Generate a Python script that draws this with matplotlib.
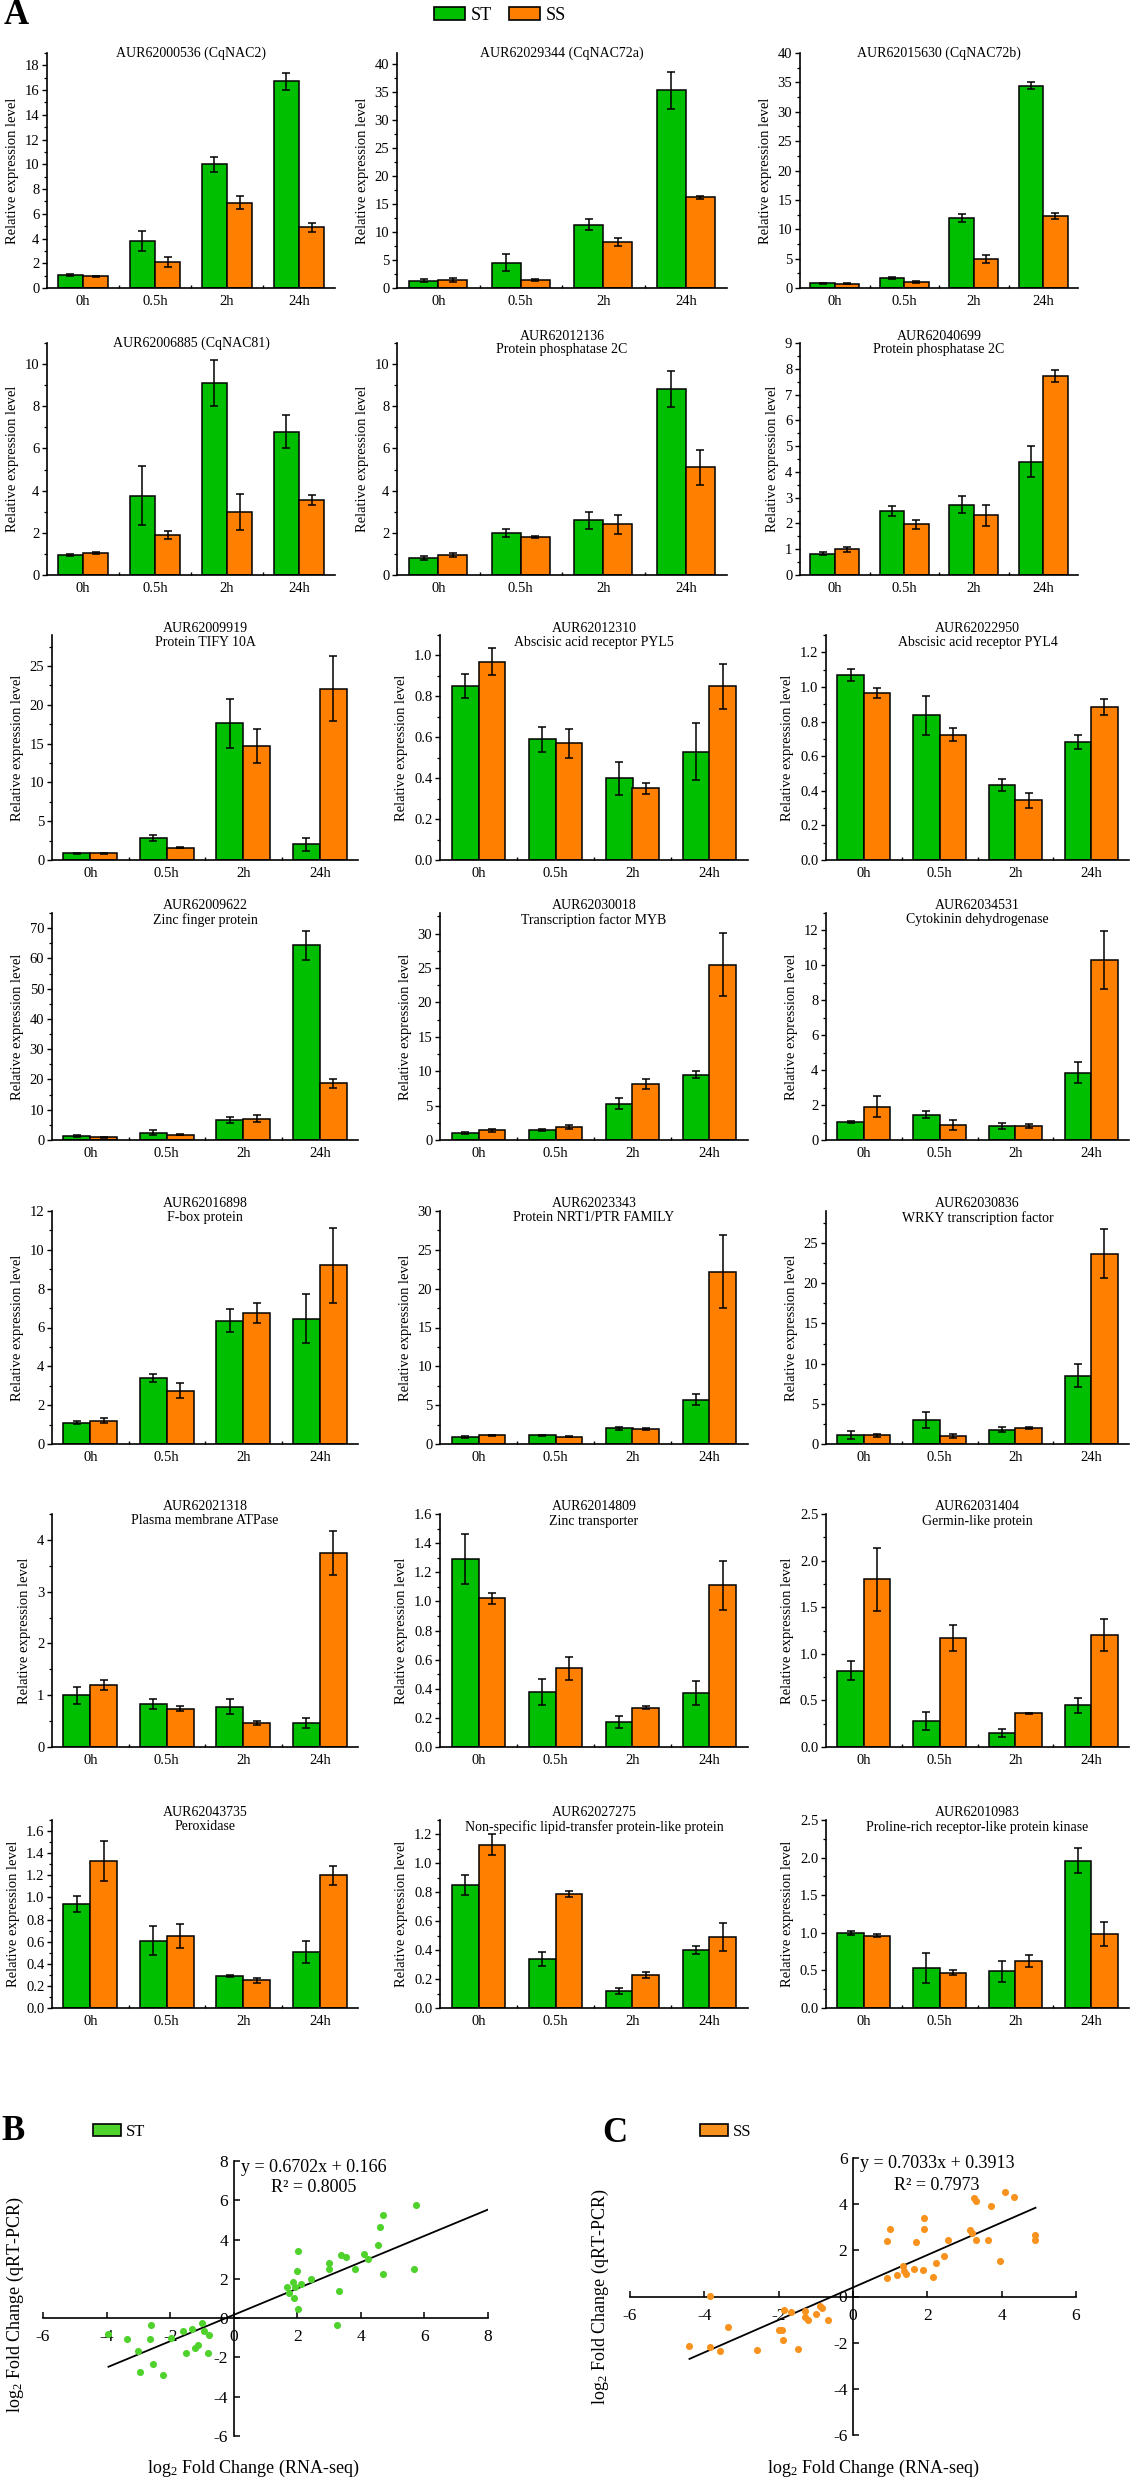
import matplotlib
matplotlib.use('Agg')
import matplotlib.pyplot as plt
from matplotlib.ticker import MultipleLocator, AutoMinorLocator, FormatStrFormatter, FixedLocator
from matplotlib.patches import Patch
import numpy as np

plt.rcParams['font.family'] = ['Liberation Serif', 'DejaVu Serif']
plt.rcParams['mathtext.fontset'] = 'custom'
plt.rcParams['mathtext.rm'] = 'Liberation Serif'
plt.rcParams['mathtext.it'] = 'Liberation Serif:italic'
plt.rcParams['axes.unicode_minus'] = False

# ---------------- data ----------------
times = ['0h', '0.5h', '2h', '24h']
series_names = ['ST', 'SS']

titles = [
    "AUR62000536 (CqNAC2)",
    "AUR62029344 (CqNAC72a)",
    "AUR62015630 (CqNAC72b)",
    "AUR62006885 (CqNAC81)",
    "AUR62012136\nProtein phosphatase 2C",
    "AUR62040699\nProtein phosphatase 2C",
    "AUR62009919\nProtein TIFY 10A",
    "AUR62012310\nAbscisic acid receptor PYL5",
    "AUR62022950\nAbscisic acid receptor PYL4",
    "AUR62009622\nZinc finger protein",
    "AUR62030018\nTranscription factor MYB",
    "AUR62034531\nCytokinin dehydrogenase",
    "AUR62016898\nF-box protein",
    "AUR62023343\nProtein NRT1/PTR FAMILY",
    "AUR62030836\nWRKY transcription factor",
    "AUR62021318\nPlasma membrane ATPase",
    "AUR62014809\nZinc transporter",
    "AUR62031404\nGermin-like protein",
    "AUR62043735\nPeroxidase",
    "AUR62027275\nNon-specific lipid-transfer protein-like protein",
    "AUR62010983\nProline-rich receptor-like protein kinase",
]

st_mean = [
    [1.05, 3.8, 10.0, 16.7],
    [1.3, 4.5, 11.3, 35.3],
    [0.8, 1.7, 11.9, 34.4],
    [0.95, 3.75, 9.1, 6.8],
    [0.8, 2.0, 2.6, 8.8],
    [0.83, 2.48, 2.73, 4.4],
    [0.85, 2.8, 17.6, 2.0],
    [0.85, 0.59, 0.40, 0.53],
    [1.07, 0.835, 0.435, 0.68],
    [1.2, 2.4, 6.6, 64.3],
    [1.0, 1.5, 5.3, 9.5],
    [1.05, 1.45, 0.8, 3.85],
    [1.1, 3.4, 6.35, 6.45],
    [0.9, 1.1, 2.0, 5.7],
    [1.1, 3.0, 1.8, 8.5],
    [1.0, 0.83, 0.78, 0.46],
    [1.29, 0.38, 0.17, 0.37],
    [0.82, 0.28, 0.15, 0.45],
    [0.94, 0.61, 0.29, 0.51],
    [0.85, 0.34, 0.12, 0.40],
    [1.0, 0.53, 0.49, 1.96],
]
st_err = [
    [0.1, 0.8, 0.6, 0.7],
    [0.3, 1.5, 1.0, 3.3],
    [0.1, 0.2, 0.7, 0.6],
    [0.03, 1.4, 1.1, 0.8],
    [0.1, 0.2, 0.4, 0.85],
    [0.05, 0.18, 0.32, 0.6],
    [0.1, 0.4, 3.2, 0.85],
    [0.06, 0.06, 0.08, 0.14],
    [0.035, 0.11, 0.035, 0.04],
    [0.3, 0.8, 1.0, 4.8],
    [0.1, 0.15, 0.8, 0.5],
    [0.05, 0.2, 0.15, 0.6],
    [0.08, 0.2, 0.6, 1.25],
    [0.1, 0.1, 0.2, 0.7],
    [0.5, 1.0, 0.3, 1.4],
    [0.16, 0.1, 0.14, 0.1],
    [0.17, 0.09, 0.04, 0.08],
    [0.1, 0.1, 0.04, 0.08],
    [0.07, 0.13, 0.01, 0.1],
    [0.07, 0.05, 0.02, 0.03],
    [0.03, 0.2, 0.14, 0.17],
]
ss_mean = [
    [0.95, 2.1, 6.9, 4.9],
    [1.4, 1.4, 8.2, 16.2],
    [0.7, 1.0, 5.0, 12.3],
    [1.05, 1.9, 3.0, 3.55],
    [0.95, 1.8, 2.4, 5.1],
    [1.0, 1.97, 2.32, 7.72],
    [0.85, 1.6, 14.7, 22.1],
    [0.97, 0.57, 0.35, 0.85],
    [0.965, 0.725, 0.345, 0.885],
    [0.9, 1.8, 7.1, 18.8],
    [1.4, 1.9, 8.1, 25.5],
    [1.9, 0.85, 0.8, 10.3],
    [1.2, 2.75, 6.75, 9.2],
    [1.1, 0.95, 1.9, 22.2],
    [1.1, 1.0, 2.0, 23.7],
    [1.2, 0.74, 0.46, 3.75],
    [1.02, 0.54, 0.27, 1.11],
    [1.8, 1.17, 0.36, 1.2],
    [1.33, 0.65, 0.25, 1.2],
    [1.13, 0.79, 0.23, 0.49],
    [0.96, 0.47, 0.62, 0.98],
]
ss_err = [
    [0.05, 0.4, 0.5, 0.35],
    [0.3, 0.2, 0.7, 0.3],
    [0.1, 0.15, 0.7, 0.5],
    [0.05, 0.2, 0.85, 0.25],
    [0.08, 0.05, 0.45, 0.85],
    [0.1, 0.17, 0.4, 0.25],
    [0.1, 0.1, 2.2, 4.2],
    [0.065, 0.07, 0.025, 0.11],
    [0.03, 0.035, 0.045, 0.045],
    [0.2, 0.3, 1.0, 1.5],
    [0.2, 0.3, 0.7, 4.6],
    [0.6, 0.3, 0.1, 1.65],
    [0.12, 0.4, 0.5, 1.95],
    [0.1, 0.05, 0.1, 4.7],
    [0.2, 0.3, 0.1, 3.0],
    [0.1, 0.05, 0.04, 0.42],
    [0.04, 0.08, 0.01, 0.17],
    [0.34, 0.14, 0.01, 0.17],
    [0.18, 0.11, 0.025, 0.085],
    [0.07, 0.02, 0.02, 0.095],
    [0.02, 0.03, 0.08, 0.16],
]
y_max = [19, 42, 40, 11, 11, 9, 29, 1.1, 1.3, 75, 33, 13, 12, 30, 29, 4.5, 1.6, 2.5, 1.7, 1.3, 2.5]
y_step = [2, 5, 5, 2, 2, 1, 5, 0.2, 0.2, 10, 5, 2, 2, 5, 5, 1, 0.2, 0.5, 0.2, 0.2, 0.5]

# correlation scatter data (log2 fold change)
st_rnaseq = [5.72, 4.70, 4.61, 4.53, 4.09, 4.23, 3.37, 3.52, 3.80, 3.01, 3.01, 4.70, 5.67, 3.30, 3.26,
             2.03, 2.00, 2.44, 2.13, 1.87, 1.68, 1.73, 1.91, 2.02, 1.94,
             -3.94, -3.36, -3.01, -2.61, -2.63, -2.94, -2.54, -2.21, -1.96, -1.60, -1.30, -1.49,
             -1.21, -1.11, -1.00, -0.94, -0.78, -0.80]
st_qpcr = [5.76, 5.25, 4.64, 3.72, 3.24, 3.02, 3.21, 3.13, 2.50, 2.82, 2.50, 2.26, 2.51, 1.39, -0.37,
           3.40, 2.38, 1.97, 1.72, 1.83, 1.56, 1.29, 1.05, 0.44, 1.60,
           -0.83, -1.07, -1.66, -0.34, -1.07, -2.74, -2.36, -2.87, -0.99, -0.66, -0.53, -1.80,
           -1.50, -1.36, -0.24, -0.63, -0.88, -1.75]
ss_rnaseq = [4.08, 4.34, 3.25, 3.31, 3.70, 1.92, 1.90, 1.00, 0.91, 1.70, 2.56, 3.14, 3.20, 3.31, 3.64,
             4.91, 4.91, 3.95, 2.45, 2.22, 1.35, 1.37, 1.64, 1.88, 1.43, 1.18, 0.91, 2.15,
             -3.85, -1.86, -1.66, -1.28, -1.30, -1.21, -1.00, -0.88, -0.84, -0.66, -3.35, -4.40,
             -3.86, -3.58, -2.57, -1.48, -1.99, -1.90, -1.87]
ss_qpcr = [4.53, 4.29, 4.26, 4.12, 3.93, 3.40, 2.92, 2.92, 2.40, 2.36, 2.46, 2.88, 2.75, 2.46, 2.44,
           2.66, 2.46, 1.52, 1.76, 1.45, 1.30, 1.11, 1.19, 1.16, 0.97, 0.91, 0.81, 0.84,
           0.04, -0.59, -0.67, -0.62, -0.90, -1.01, -0.75, -0.39, -0.51, -1.00, -1.32, -2.13,
           -2.18, -2.37, -2.30, -2.26, -1.47, -1.47, -1.89]
st_fit = [0.6702, 0.166]
ss_fit = [0.7033, 0.3913]
st_fit_range = [-3.94, 8.0]
ss_fit_range = [-4.40, 4.91]

# ---------------- styling ----------------
GREEN = '#00BF00'
ORANGE = '#FF8000'
SC_GREEN = '#4FD32C'
SC_ORANGE = '#F7921E'

W, H = 1133, 2481
fig = plt.figure(figsize=(W / 100, H / 100), dpi=100)


def px_axes(l, t, r, b):
    return fig.add_axes([l / W, 1 - b / H, (r - l) / W, (b - t) / H])


row_tops = [53, 343, 635, 913, 1211, 1514, 1820]
row_bottoms = [288, 575, 860, 1140, 1444, 1747, 2008]
cols_top = [(47, 335), (397, 727), (800, 1078)]
cols_rest = [(52, 358), (440, 748), (826, 1129)]

x = np.arange(len(times))
bw = 0.35
for i in range(21):
    r, c = divmod(i, 3)
    cols = cols_top if r < 2 else cols_rest
    l, rr = cols[c]
    ax = px_axes(l, row_tops[r], rr, row_bottoms[r])
    ek = dict(ecolor='black', elinewidth=1.1, capsize=2.6, capthick=1.1)
    ax.bar(x - bw / 2, st_mean[i], bw, yerr=st_err[i], color=GREEN, edgecolor='black',
           linewidth=1.1, error_kw=ek, zorder=2)
    ax.bar(x + bw / 2, ss_mean[i], bw, yerr=ss_err[i], color=ORANGE, edgecolor='black',
           linewidth=1.1, error_kw=ek, zorder=2)
    ax.set_xlim(-0.5, 3.5)
    ax.set_ylim(0, y_max[i])
    ax.set_xticks(x)
    ax.set_xticklabels(times, fontsize=10.5)
    ax.xaxis.set_minor_locator(FixedLocator([0.5, 1.5, 2.5]))
    ax.tick_params(axis='x', which='major', length=0, pad=5)
    ax.tick_params(axis='x', which='minor', length=2, direction='in', width=1)
    ax.yaxis.set_major_locator(MultipleLocator(y_step[i]))
    ax.yaxis.set_minor_locator(AutoMinorLocator(2))
    if y_step[i] < 1:
        ax.yaxis.set_major_formatter(FormatStrFormatter('%.1f'))
    else:
        ax.yaxis.set_major_formatter(FormatStrFormatter('%d'))
    ax.tick_params(axis='y', which='major', length=3.5, width=1, direction='out', labelsize=10.5, pad=2)
    ax.tick_params(axis='y', which='minor', length=2, width=0.9, direction='out')
    for s in ['top', 'right']:
        ax.spines[s].set_visible(False)
    for s in ['left', 'bottom']:
        ax.spines[s].set_linewidth(1.2)
    ax.set_ylabel('Relative expression level', fontsize=10.5, labelpad=4)
    ax.text(0.5, 1.0, titles[i], transform=ax.transAxes, ha='center', va='center',
            fontsize=10, linespacing=1.1)

# top legend and panel label A
fig.text(4 / W, 1 - 16 / H, 'A', fontsize=25, fontweight='bold', va='center', ha='left')
fig.legend(handles=[Patch(facecolor=GREEN, edgecolor='black', linewidth=1.2, label='ST'),
                    Patch(facecolor=ORANGE, edgecolor='black', linewidth=1.2, label='SS')],
           loc='center', bbox_to_anchor=(500 / W, 1 - 15 / H), ncol=2, frameon=False,
           fontsize=13, handlelength=1.7, handleheight=0.75, handletextpad=0.3, columnspacing=1.0)


def scatter_panel(l, t, r, b, xs, ys, fit, frange, color, xlim, ylim, xt, yt):
    ax = px_axes(l, t, r, b)
    ax.scatter(xs, ys, s=26, color=color, zorder=3, linewidths=0)
    fx = np.array(frange)
    ax.plot(fx, fit[0] * fx + fit[1], color='black', linewidth=1.3, zorder=2)
    ax.set_xlim(*xlim)
    ax.set_ylim(*ylim)
    ax.spines['left'].set_position(('data', 0))
    ax.spines['bottom'].set_position(('data', 0))
    for s in ['top', 'right']:
        ax.spines[s].set_visible(False)
    for s in ['left', 'bottom']:
        ax.spines[s].set_linewidth(1.2)
    ax.set_xticks(xt)
    ax.set_yticks(yt)
    ax.set_xticklabels([str(v) for v in xt])
    ax.set_yticklabels([str(v) for v in yt])
    ax.tick_params(axis='both', direction='in', length=4, width=1.1, labelsize=12.5)
    ax.tick_params(axis='x', pad=8)
    ax.tick_params(axis='y', pad=4)
    return ax


axB = scatter_panel(43, 2161, 488, 2436, st_rnaseq, st_qpcr, st_fit, st_fit_range, SC_GREEN,
                    (-6, 8), (-6, 8), [-6, -4, -2, 0, 2, 4, 6, 8], [-6, -4, -2, 0, 2, 4, 6, 8])
axC = scatter_panel(630, 2158, 1076, 2435, ss_rnaseq, ss_qpcr, ss_fit, ss_fit_range, SC_ORANGE,
                    (-6, 6), (-6, 6), [-6, -4, -2, 0, 2, 4, 6], [-6, -4, -2, 0, 2, 4, 6])

fig.text(314 / W, 1 - 2167 / H, 'y = %.4fx + %.3f' % (st_fit[0], st_fit[1]), fontsize=13,
         ha='center', va='center')
fig.text(314 / W, 1 - 2187 / H, 'R\u00b2 = 0.8005', fontsize=13, ha='center', va='center')
fig.text(937 / W, 1 - 2163 / H, 'y = %.4fx + %.4f' % (ss_fit[0], ss_fit[1]), fontsize=13,
         ha='center', va='center')
fig.text(937 / W, 1 - 2185 / H, 'R\u00b2 = 0.7973', fontsize=13, ha='center', va='center')

xl = r'log$_\mathrm{2}$ Fold Change (RNA-seq)'
yl = r'log$_\mathrm{2}$ Fold Change (qRT-PCR)'
fig.text(253 / W, 1 - 2468 / H, xl, fontsize=13, ha='center', va='center')
fig.text(15 / W, 1 - 2305 / H, yl, fontsize=13, ha='center', va='center', rotation=90)
fig.text(873 / W, 1 - 2468 / H, xl, fontsize=13, ha='center', va='center')
fig.text(600 / W, 1 - 2297 / H, yl, fontsize=13, ha='center', va='center', rotation=90)

fig.text(1 / W, 1 - 2132 / H, 'B', fontsize=25, fontweight='bold', va='center', ha='left')
fig.text(602 / W, 1 - 2133 / H, 'C', fontsize=25, fontweight='bold', va='center', ha='left')
fig.legend(handles=[Patch(facecolor=SC_GREEN, edgecolor='black', linewidth=1.2, label='ST')],
           loc='center left', bbox_to_anchor=(78 / W, 1 - 2132 / H), frameon=False,
           fontsize=12, handlelength=1.7, handleheight=0.75, handletextpad=0.3)
fig.legend(handles=[Patch(facecolor=SC_ORANGE, edgecolor='black', linewidth=1.2, label='SS')],
           loc='center left', bbox_to_anchor=(685 / W, 1 - 2132 / H), frameon=False,
           fontsize=12, handlelength=1.7, handleheight=0.75, handletextpad=0.3)

fig.savefig('out.png', dpi=100)
